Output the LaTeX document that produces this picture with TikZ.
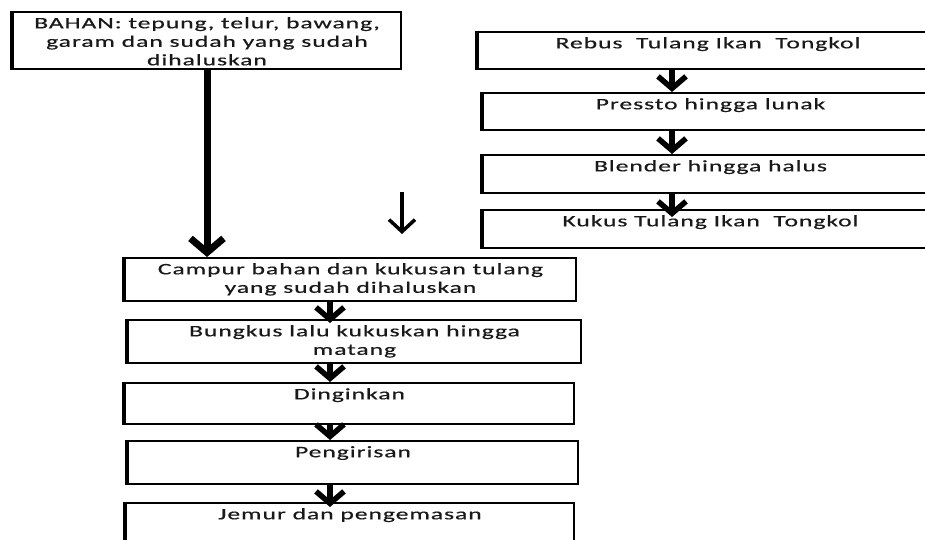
\documentclass[tikz,border=0pt]{standalone}
\usepackage{fontspec}
\setmainfont{Carlito}[FakeStretch=1.6,LetterSpace=6,FakeBold=0.5]
\usetikzlibrary{arrows.meta,calc}
\tikzstyle{kotak} = [rectangle, draw=black, line width=2pt, anchor=north west, inner sep=0pt]
\tikzstyle{teks} = [anchor=north, align=center, inner sep=0pt, yshift=-6pt, font=\fontsize{16}{18.5}\selectfont, text=black!90]
\tikzstyle{panah} = [line width=5.5pt, -{Straight Barb[length=12pt,width=28pt]}]

\begin{document}
\begin{tikzpicture}[x=1pt,y=-1pt]
\clip (0,0) rectangle (925,540);

\node[kotak, minimum width=388pt, minimum height=57pt, label={[teks]north:BAHAN: tepung, telur, bawang,\\garam dan sudah yang sudah\\dihaluskan}] (bahan) at (12,11) {};

\node[kotak, minimum width=460pt, minimum height=37pt, label={[teks]north:Rebus\ \ Tulang Ikan\ \ Tongkol}] (rebus) at (477,31) {};
\node[kotak, minimum width=455pt, minimum height=37pt, label={[teks]north:Pressto hingga lunak}] (presto) at (482,92) {};
\node[kotak, minimum width=455pt, minimum height=38pt, label={[teks]north:Blender hingga halus}] (blender) at (482,154) {};
\node[kotak, minimum width=455pt, minimum height=38pt, label={[teks]north:Kukus Tulang Ikan\ \ Tongkol}] (kukus) at (482,209) {};

\node[kotak, minimum width=451pt, minimum height=43pt, label={[teks]north:Campur bahan dan kukusan tulang\\yang sudah dihaluskan}] (campur) at (124,257) {};
\node[kotak, minimum width=453pt, minimum height=43pt, label={[teks]north:Bungkus lalu kukuskan hingga\\matang}] (bungkus) at (127,319) {};
\node[kotak, minimum width=449pt, minimum height=41pt, label={[teks]north:Dinginkan}] (dingin) at (124,382) {};
\node[kotak, minimum width=450pt, minimum height=43pt, label={[teks]north:Pengirisan}] (iris) at (127,440) {};
\node[kotak, minimum width=448pt, minimum height=45pt, label={[teks]north:Jemur dan pengemasan}] (jemur) at (125,502) {};

\foreach \n in {bahan,rebus,presto,blender,kukus,campur,bungkus,dingin,iris,jemur}
    \draw[line width=4.5pt] (\n.north west) -- (\n.south west);

\coordinate (kanan) at (672,0);
\coordinate (kiri) at (330,0);

\draw [panah] (rebus.south -| kanan) -- (presto.north -| kanan);
\draw [panah] (presto.south -| kanan) -- (blender.north -| kanan);
\draw [panah, shorten >=-8pt] (blender.south -| kanan) -- (kukus.north -| kanan);

\draw [line width=7pt, -{Straight Barb[length=14pt,width=33pt]}] (bahan.south) -- (bahan.south |- campur.north);

\draw [panah, shorten >=-4pt] (campur.south -| kiri) -- (bungkus.north -| kiri);
\draw [panah] (bungkus.south -| kiri) -- (dingin.north -| kiri);
\draw [panah] (dingin.south -| kiri) -- (iris.north -| kiri);
\draw [panah, shorten >=-5pt] (iris.south -| kiri) -- (jemur.north -| kiri);

\coordinate (atas) at (402,192);
\coordinate (bawah) at (402,234);
\draw [line width=3.5pt, -{Straight Barb[length=12pt,width=26pt]}] (atas) -- (bawah);

\end{tikzpicture}
\end{document}
